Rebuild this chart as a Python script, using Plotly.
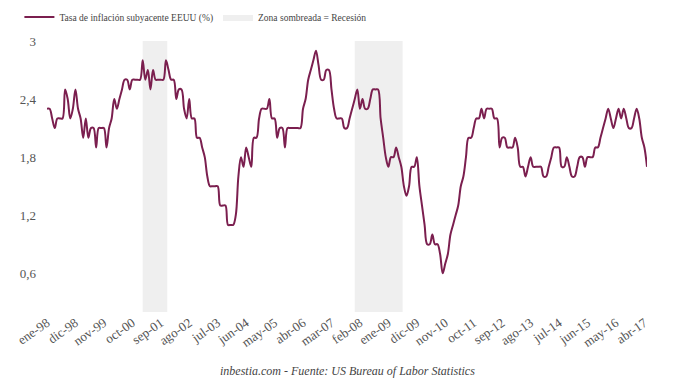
import plotly.graph_objects as go

# Core CPI YoY (%), monthly, Jan-1998 .. May-2017
v1998 = [2.3, 2.3, 2.2, 2.1, 2.2, 2.2, 2.2, 2.5, 2.4, 2.2, 2.3, 2.5]
v1999 = [2.3, 2.2, 2.0, 2.2, 2.0, 2.1, 2.1, 1.9, 2.1, 2.1, 2.1, 1.9]
v2000 = [2.1, 2.2, 2.4, 2.3, 2.4, 2.5, 2.6, 2.6, 2.5, 2.6, 2.6, 2.6]
v2001 = [2.6, 2.8, 2.6, 2.7, 2.5, 2.7, 2.6, 2.6, 2.6, 2.6, 2.8, 2.7]
v2002 = [2.6, 2.6, 2.4, 2.5, 2.5, 2.3, 2.2, 2.4, 2.2, 2.2, 2.0, 2.0]
v2003 = [1.9, 1.8, 1.6, 1.5, 1.5, 1.5, 1.5, 1.3, 1.3, 1.3, 1.1, 1.1]
v2004 = [1.1, 1.2, 1.6, 1.8, 1.7, 1.9, 1.8, 1.7, 2.0, 2.0, 2.2, 2.3]
v2005 = [2.3, 2.3, 2.4, 2.2, 2.2, 2.0, 2.1, 2.1, 1.9, 2.1, 2.1, 2.1]
v2006 = [2.1, 2.1, 2.1, 2.3, 2.4, 2.6, 2.7, 2.8, 2.9, 2.75, 2.6, 2.6]
v2007 = [2.7, 2.7, 2.5, 2.3, 2.2, 2.2, 2.2, 2.1, 2.1, 2.2, 2.3, 2.4]
v2008 = [2.5, 2.3, 2.4, 2.3, 2.3, 2.4, 2.5, 2.5, 2.5, 2.2, 2.0, 1.8]
v2009 = [1.7, 1.8, 1.8, 1.9, 1.8, 1.7, 1.5, 1.4, 1.5, 1.7, 1.7, 1.8]
v2010 = [1.5, 1.3, 1.1, 0.9, 0.9, 1.0, 0.9, 0.9, 0.8, 0.6, 0.7, 0.8]
v2011 = [1.0, 1.1, 1.2, 1.3, 1.5, 1.6, 1.8, 2.0, 2.0, 2.1, 2.2, 2.2]
v2012 = [2.3, 2.2, 2.3, 2.3, 2.3, 2.2, 2.2, 1.9, 2.0, 2.0, 1.9, 1.9]
v2013 = [1.9, 2.0, 1.9, 1.7, 1.7, 1.6, 1.7, 1.8, 1.7, 1.7, 1.7, 1.7]
v2014 = [1.6, 1.6, 1.7, 1.8, 1.9, 1.9, 1.9, 1.7, 1.7, 1.8, 1.7, 1.6]
v2015 = [1.6, 1.7, 1.8, 1.8, 1.7, 1.8, 1.8, 1.8, 1.9, 1.9, 2.0, 2.1]
v2016 = [2.2, 2.3, 2.2, 2.1, 2.2, 2.3, 2.2, 2.3, 2.2, 2.1, 2.1, 2.2]
v2017 = [2.3, 2.2, 2.0, 1.9, 1.7]

month_names = ["ene", "feb", "mar", "abr", "may", "jun",
               "jul", "ago", "sep", "oct", "nov", "dic"]
first_year = 1998

tick_labels = ["ene-98", "dic-98", "nov-99", "oct-00", "sep-01", "ago-02",
               "jul-03", "jun-04", "may-05", "abr-06", "mar-07", "feb-08",
               "ene-09", "dic-09", "nov-10", "oct-11", "sep-12", "ago-13",
               "jul-14", "jun-15", "may-16", "abr-17"]

# Recession periods, as month labels
rec_start = ["feb-01", "dic-07"]
rec_end = ["nov-01", "jun-09"]

series_name = "Tasa de inflación subyacente EEUU (%)"
rec_name = "Zona sombreada = Recesión"
source_text = "inbestia.com - Fuente: US Bureau of Labor Statistics"

values = (v1998 + v1999 + v2000 + v2001 + v2002 + v2003 + v2004 + v2005 +
          v2006 + v2007 + v2008 + v2009 + v2010 + v2011 + v2012 + v2013 +
          v2014 + v2015 + v2016 + v2017)
n = len(values)
months = [f"{month_names[i % 12]}-{str(first_year + i // 12)[-2:]}" for i in range(n)]
xs = list(range(n))
tick_pos = [months.index(t) for t in tick_labels]

Y_MIN, Y_MAX = 0.2, 3.0

rx, ry = [], []
for s, e in zip(rec_start, rec_end):
    a = months.index(s)
    b = months.index(e) + 0.5
    rx += [a, a, b, b, a, None]
    ry += [Y_MIN, Y_MAX, Y_MAX, Y_MIN, Y_MIN, None]

fig = go.Figure()
fig.add_trace(go.Scatter(
    x=rx, y=ry, mode="lines", fill="toself", name=rec_name,
    fillcolor="#efefef", line=dict(width=0, color="#efefef"),
    hoverinfo="skip", legendrank=2))
fig.add_trace(go.Scatter(
    x=xs, y=values, mode="lines", name=series_name,
    line=dict(color="#7b1f4f", width=2, shape="spline", smoothing=1.0),
    hoverinfo="skip", legendrank=1))

FONT = "Liberation Serif, Times New Roman, serif"
fig.update_layout(
    width=672, height=379,
    margin=dict(l=39, r=33, t=33, b=75, autoexpand=False),
    paper_bgcolor="white", plot_bgcolor="white",
    separators=",.",
    font=dict(family=FONT, size=13, color="#555555"),
    showlegend=True,
    legend=dict(orientation="h", x=-0.046, y=1.089, xanchor="left",
                yanchor="middle",
                font=dict(family=FONT, size=9.5, color="#444444"),
                bgcolor="rgba(0,0,0,0)"),
    xaxis=dict(range=[0, n - 1], tickmode="array", tickvals=tick_pos,
               ticktext=tick_labels, tickangle=-35, showgrid=False,
               zeroline=False, showline=False, ticks="", automargin=False,
               tickfont=dict(family=FONT, size=13, color="#555555")),
    yaxis=dict(range=[Y_MIN, Y_MAX], tickmode="array",
               tickvals=[0.6, 1.2, 1.8, 2.4, 3.0], showgrid=False,
               zeroline=False, showline=False, ticks="", automargin=False,
               ticklabelstandoff=10,
               tickfont=dict(family=FONT, size=13, color="#555555")),
    annotations=[dict(text=source_text, xref="paper", yref="paper",
                      x=0.5, y=-0.219, xanchor="center", yanchor="middle",
                      showarrow=False,
                      font=dict(family=FONT, size=12, color="#444444",
                                style="italic"))],
)

fig.write_html("out.html")
